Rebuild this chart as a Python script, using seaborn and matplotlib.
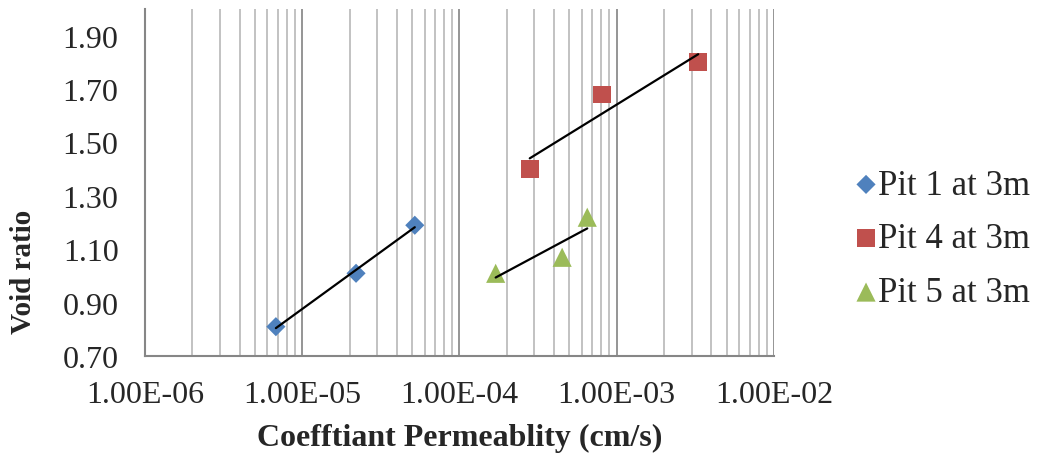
import numpy as np
import pandas as pd
import matplotlib
matplotlib.use("Agg")
import matplotlib.pyplot as plt
import matplotlib.ticker as mticker
import seaborn as sns

# ---- data ----
series_names = ["Pit 1 at 3m", "Pit 4 at 3m", "Pit 5 at 3m"]
pit1_k = [6.8e-6, 2.2e-5, 5.2e-5]
pit1_e = [0.81, 1.01, 1.19]
pit4_k = [2.8e-4, 8.1e-4, 3.3e-3]
pit4_e = [1.40, 1.68, 1.80]
pit5_k = [1.7e-4, 4.5e-4, 6.5e-4]
pit5_e = [1.01, 1.07, 1.22]
x_ticks = [1e-6, 1e-5, 1e-4, 1e-3, 1e-2]
x_tick_labels = ["1.00E-06", "1.00E-05", "1.00E-04", "1.00E-03", "1.00E-02"]
y_ticks = [0.70, 0.90, 1.10, 1.30, 1.50, 1.70, 1.90]

colors = ["#4F81BD", "#C0504D", "#9BBB59"]
markers = ["D", "s", "^"]
sizes = [95, 165, 190]

df = pd.DataFrame({
    "k": pit1_k + pit4_k + pit5_k,
    "e": pit1_e + pit4_e + pit5_e,
    "series": [series_names[0]] * len(pit1_k) + [series_names[1]] * len(pit4_k) + [series_names[2]] * len(pit5_k),
})

sns.set_style("white")
plt.rcParams["font.family"] = ["Liberation Serif", "DejaVu Serif"]

fig = plt.figure(figsize=(10.43, 4.56), dpi=100)
ax = fig.add_axes([0.139, 0.217, 0.603, 0.761])

for name, c, m, s in zip(series_names, colors, markers, sizes):
    sub = df[df["series"] == name]
    sns.scatterplot(data=sub, x="k", y="e", color=c, marker=m, s=s,
                    edgecolor="none", linewidth=0, ax=ax, label=name, zorder=3)
    lx = np.log10(sub["k"].values)
    p = np.polyfit(lx, sub["e"].values, 1)
    xs = np.array([lx.min(), lx.max()])
    ax.plot(10 ** xs, np.polyval(p, xs), color="black", lw=1.6, zorder=4)

ax.set_xscale("log")
ax.set_xlim(1e-6, 1e-2)
ax.set_ylim(0.70, 2.0)
ax.set_xticks(x_ticks)
ax.set_xticklabels(x_tick_labels)
ax.xaxis.set_minor_locator(mticker.LogLocator(base=10, subs=np.arange(2, 10)))
ax.xaxis.set_minor_formatter(mticker.NullFormatter())
ax.set_yticks(y_ticks)
ax.set_yticklabels([f"{v:.2f}" for v in y_ticks])

ax.grid(False)
ax.grid(True, which="major", axis="x", color="#8C8C8C", lw=1.3, zorder=0)
ax.grid(True, which="minor", axis="x", color="#BDBDBD", lw=1.3, zorder=0)
ax.set_axisbelow(True)

for sp in ["top", "right"]:
    ax.spines[sp].set_visible(False)
for sp in ["left", "bottom"]:
    ax.spines[sp].set_color("#868686")
    ax.spines[sp].set_linewidth(1.5)

ax.tick_params(axis="both", which="major", labelsize=23, color="#868686",
               width=1.5, length=7, direction="out")
ax.tick_params(axis="y", which="major", pad=12)
ax.tick_params(axis="x", which="minor", length=0)
ax.tick_params(axis="x", which="major", pad=10)

ax.set_xlabel("Coefftiant Permeablity (cm/s)", fontsize=23, fontweight="bold", labelpad=10)
ax.set_ylabel("Void ratio", fontsize=21, fontweight="bold")
ax.yaxis.set_label_coords(-0.172, 0.245)

ax.legend(loc="center left", bbox_to_anchor=(0.822, 0.474), bbox_transform=fig.transFigure,
          frameon=False, fontsize=25, handletextpad=0.1, labelspacing=0.6,
          handlelength=0.5, borderaxespad=0, borderpad=0)

fig.savefig("out.png", dpi=100)
